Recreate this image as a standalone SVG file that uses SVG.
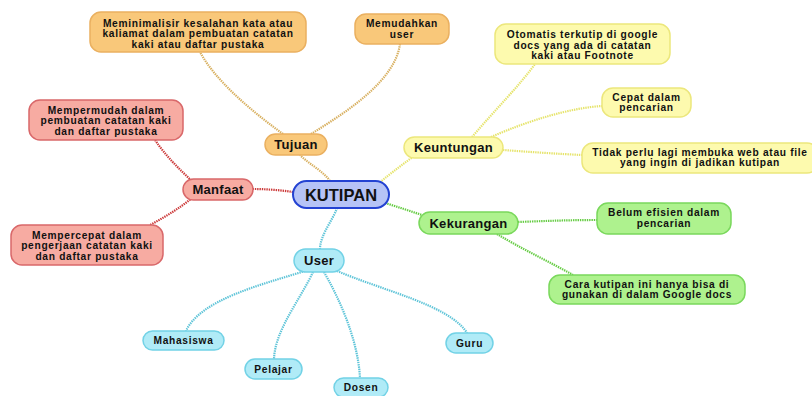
<svg xmlns="http://www.w3.org/2000/svg" width="812" height="396" viewBox="0 0 812 396">
<style>
text{font-family:"Liberation Sans",Arial,sans-serif;font-weight:bold;fill:#111;text-anchor:middle}
.leaf{font-size:10.2px;letter-spacing:0.7px}
.br{font-size:13px;letter-spacing:0.3px}
.c{fill:none;stroke-width:2.2;stroke-dasharray:1.4 0.9}
.or{fill:#f9c87a;stroke:#eab060;stroke-width:1.5}
.ye{fill:#fdfaae;stroke:#ece77c;stroke-width:1.5}
.re{fill:#f7aba2;stroke:#d9686a;stroke-width:1.5}
.gr{fill:#aef28e;stroke:#7ad85c;stroke-width:1.5}
.cy{fill:#b0ebf7;stroke:#72d2e6;stroke-width:1.5}
</style>
<rect width="812" height="396" fill="#fff"/>
<g id="connectors">
<path class="c" stroke="#d8b060" d="M330,181 C322,170 310,165 300,155"/>
<path class="c" stroke="#d8b060" d="M283,134 C250,110 215,80 200,52"/>
<path class="c" stroke="#d8b060" d="M311,134 C350,110 395,80 400,44"/>
<path class="c" stroke="#e6e46c" d="M378,184 C392,172 402,165 414,156"/>
<path class="c" stroke="#e6e46c" d="M472,137 C495,110 520,85 535,64"/>
<path class="c" stroke="#e6e46c" d="M491,137 C530,120 570,108 602,106"/>
<path class="c" stroke="#e6e46c" d="M503,150 C530,152 560,154 582,155"/>
<path class="c" stroke="#66cc44" d="M385,203 C398,207 410,211 422,215"/>
<path class="c" stroke="#66cc44" d="M518,222 C545,221 570,220 597,220"/>
<path class="c" stroke="#66cc44" d="M497,234 C520,248 550,262 573,275"/>
<path class="c" stroke="#cc3a3a" d="M293,192 C280,190 265,189 253,189"/>
<path class="c" stroke="#cc3a3a" d="M193,182 C180,170 165,155 155,140"/>
<path class="c" stroke="#cc3a3a" d="M192,198 C180,208 165,217 150,225"/>
<path class="c" stroke="#5ec4d8" d="M337,208 C333,220 320,235 320,249"/>
<path class="c" stroke="#5ec4d8" d="M305,271 C260,285 200,300 186,331"/>
<path class="c" stroke="#5ec4d8" d="M313,272 C300,300 275,330 274,359"/>
<path class="c" stroke="#5ec4d8" d="M324,272 C340,300 358,340 360,378"/>
<path class="c" stroke="#5ec4d8" d="M335,270 C380,290 450,305 467,333"/>
</g>
<g id="kutipan">
<rect x="293" y="181" width="96" height="27" rx="13.5" fill="#b6c3f6" stroke="#2442d2" stroke-width="2"/>
<text x="341" y="200.5" font-size="16.5">KUTIPAN</text>
</g>
<g id="tujuan">
<rect class="or" x="265" y="134" width="62" height="21" rx="10.5"/>
<text class="br" x="296" y="149">Tujuan</text>
</g>
<g id="meminimalisir">
<rect class="or" x="90" y="12" width="216" height="40" rx="11"/>
<text class="leaf" x="198" y="26.5">Meminimalisir kesalahan kata atau</text>
<text class="leaf" x="198" y="37">kaliamat dalam pembuatan catatan</text>
<text class="leaf" x="198" y="47.5">kaki atau daftar pustaka</text>
</g>
<g id="memudahkan">
<rect class="or" x="355" y="14" width="94" height="30" rx="11"/>
<text class="leaf" x="402" y="27">Memudahkan</text>
<text class="leaf" x="402" y="37.5">user</text>
</g>
<g id="keuntungan">
<rect class="ye" x="404" y="137" width="99" height="21" rx="10.5"/>
<text class="br" x="453.5" y="152">Keuntungan</text>
</g>
<g id="otomatis">
<rect class="ye" x="495" y="24" width="175" height="40" rx="11"/>
<text class="leaf" x="582.5" y="38">Otomatis terkutip di google</text>
<text class="leaf" x="582.5" y="48.5">docs yang ada di catatan</text>
<text class="leaf" x="582.5" y="59">kaki atau Footnote</text>
</g>
<g id="cepat">
<rect class="ye" x="602" y="88" width="89" height="29" rx="11"/>
<text class="leaf" x="646.5" y="100.5">Cepat dalam</text>
<text class="leaf" x="646.5" y="111">pencarian</text>
</g>
<g id="tidak">
<rect class="ye" x="582" y="143" width="236" height="30" rx="11"/>
<text class="leaf" x="700" y="155.5">Tidak perlu lagi membuka web atau file</text>
<text class="leaf" x="700" y="166">yang ingin di jadikan kutipan</text>
</g>
<g id="kekurangan">
<rect class="gr" x="419" y="212" width="99" height="22" rx="11"/>
<text class="br" x="468.5" y="227.5">Kekurangan</text>
</g>
<g id="belum">
<rect class="gr" x="597" y="203" width="134" height="31" rx="11"/>
<text class="leaf" x="664" y="216">Belum efisien dalam</text>
<text class="leaf" x="664" y="226.5">pencarian</text>
</g>
<g id="cara">
<rect class="gr" x="549" y="275" width="196" height="29" rx="11"/>
<text class="leaf" x="647" y="287.5">Cara kutipan ini hanya bisa di</text>
<text class="leaf" x="647" y="298">gunakan di dalam Google docs</text>
</g>
<g id="manfaat">
<rect class="re" x="183" y="179" width="70" height="21" rx="10.5"/>
<text class="br" x="218" y="194">Manfaat</text>
</g>
<g id="mempermudah">
<rect class="re" x="29" y="100" width="154" height="40" rx="11"/>
<text class="leaf" x="106" y="113.5">Mempermudah dalam</text>
<text class="leaf" x="106" y="124">pembuatan catatan kaki</text>
<text class="leaf" x="106" y="134.5">dan daftar pustaka</text>
</g>
<g id="mempercepat">
<rect class="re" x="11" y="225" width="152" height="40" rx="11"/>
<text class="leaf" x="87" y="238.5">Mempercepat dalam</text>
<text class="leaf" x="87" y="249">pengerjaan catatan kaki</text>
<text class="leaf" x="87" y="259.5">dan daftar pustaka</text>
</g>
<g id="user">
<rect class="cy" x="294" y="249" width="50" height="23" rx="11.5"/>
<text class="br" x="319" y="265">User</text>
</g>
<g id="mahasiswa">
<rect class="cy" x="143" y="331" width="81" height="19" rx="9.5"/>
<text class="leaf" x="183.5" y="344">Mahasiswa</text>
</g>
<g id="pelajar">
<rect class="cy" x="245" y="359" width="57" height="20" rx="10"/>
<text class="leaf" x="273.5" y="373">Pelajar</text>
</g>
<g id="dosen">
<rect class="cy" x="334" y="378" width="54" height="19" rx="9.5"/>
<text class="leaf" x="361" y="391">Dosen</text>
</g>
<g id="guru">
<rect class="cy" x="446" y="333" width="47" height="20" rx="10"/>
<text class="leaf" x="469.5" y="347">Guru</text>
</g>
</svg>
